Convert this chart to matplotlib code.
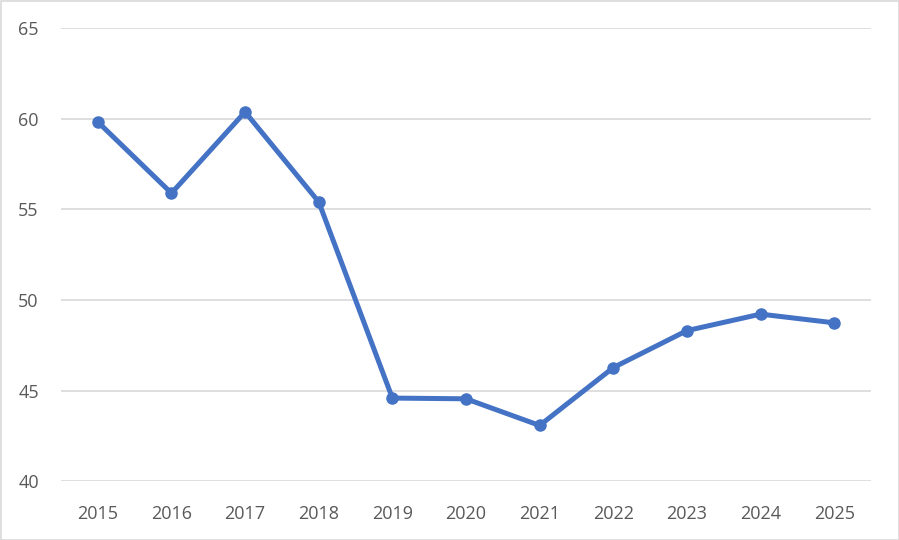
import matplotlib
matplotlib.use("Agg")
import matplotlib.pyplot as plt
from matplotlib.patches import Rectangle

years = ["2015", "2016", "2017", "2018", "2019", "2020", "2021", "2022", "2023", "2024", "2025"]
values = [59.82, 55.89, 60.37, 55.41, 44.59, 44.55, 43.08, 46.27, 48.31, 49.22, 48.74]
yticks = [40, 45, 50, 55, 60, 65]

plt.rcParams['font.family'] = ['Open Sans', 'DejaVu Sans']

fig = plt.figure(figsize=(8.99, 5.40), dpi=100)
ax = fig.add_axes([61/899, 1-481.3/540, (871-61)/899, (481.3-28)/540])

x = list(range(len(years)))
ax.plot(x, values, color="#4472C4", linewidth=3.6, marker="o", markersize=8,
        solid_joinstyle="round", solid_capstyle="round", zorder=3)

ax.set_xlim(-0.5, len(years)-0.5)
ax.set_ylim(40, 65)
ax.set_yticks(yticks)
ax.set_yticklabels([str(t) for t in yticks])
ax.set_xticks(x)
ax.set_xticklabels(years)
ax.grid(axis="y", color="#D9D9D9", linewidth=1.2)
ax.set_axisbelow(True)
for s in ax.spines.values():
    s.set_visible(False)
ax.tick_params(axis="both", length=0, labelsize=13, labelcolor="#595959")
ax.tick_params(axis="y", pad=16)
ax.tick_params(axis="x", pad=17)

fig.patches.append(Rectangle((0.5/899, 0.5/540), 1-1/899, 1-1/540, transform=fig.transFigure,
                             fill=False, edgecolor="#D9D9D9", linewidth=1.2))

fig.savefig("out.png", dpi=100)
